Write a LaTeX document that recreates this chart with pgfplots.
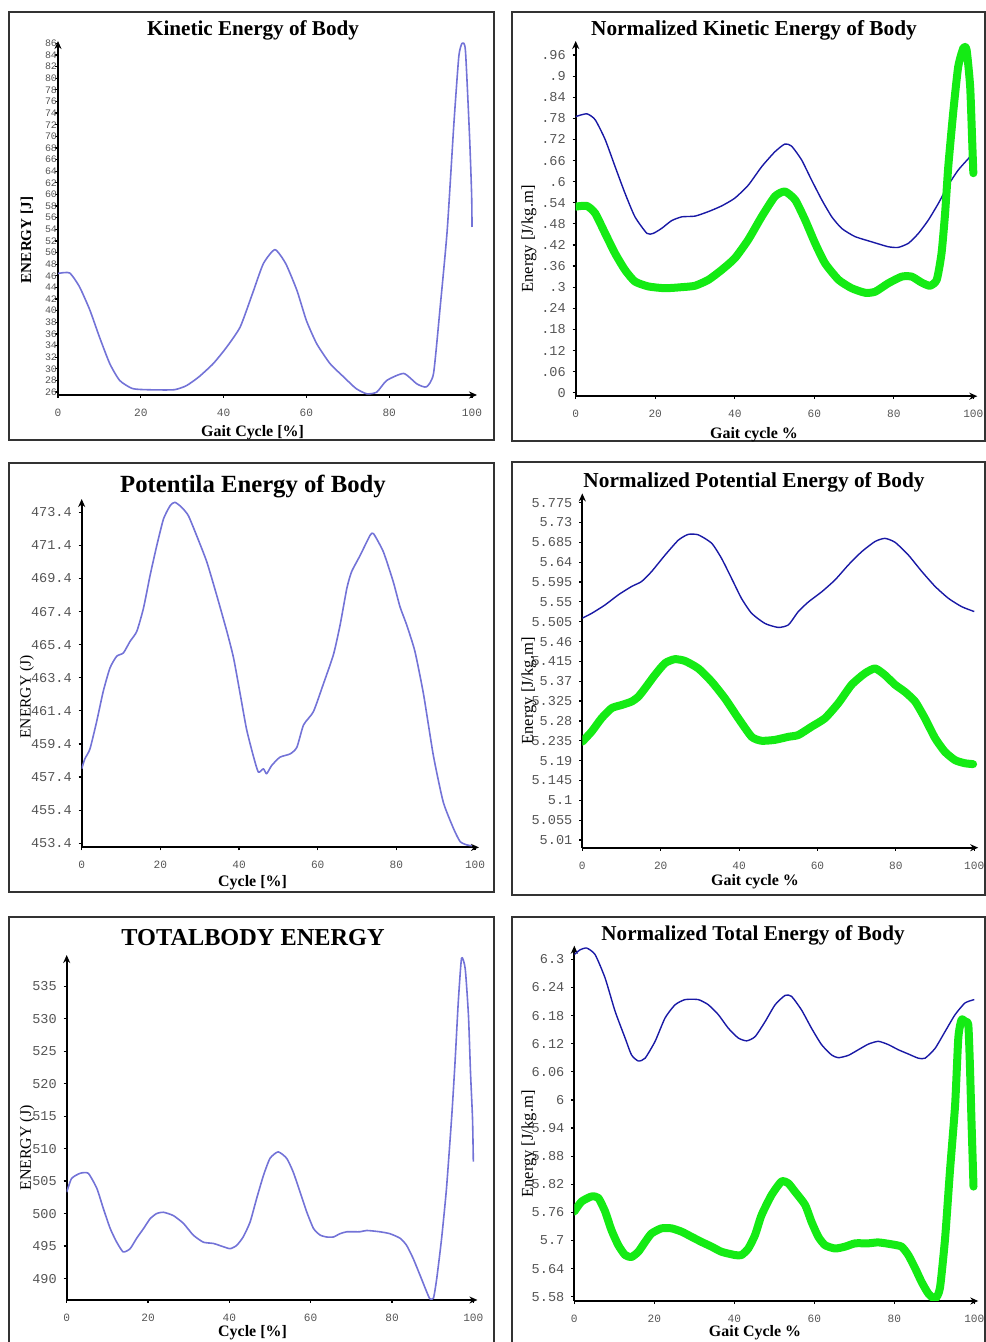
\documentclass[border=0pt]{standalone}
\usepackage{fontspec}
\setmainfont{Liberation Serif}
\newfontfamily\monofont{Liberation Mono}
\usepackage{pgfplots}
\pgfplotsset{compat=1.18}
\usetikzlibrary{arrows.meta}
\definecolor{lav}{RGB}{115,115,215}
\definecolor{nblue}{RGB}{25,25,165}
\definecolor{lgreen}{RGB}{20,235,20}
\definecolor{tickgray}{RGB}{85,85,85}
\pgfplotsset{
  panel/.style={
    scale only axis,
    anchor=south west,
    axis lines=left,
    axis line style={line width=1.1bp, -{Stealth[length=4bp,width=3.5bp]}},
    xmin=0, xmax=101,
    xtick={0,20,40,60,80,100},
    xticklabels={0,20,40,60,80,100},
    tick align=outside,
    major tick length=1.5bp,
    tick style={black, line width=0.6bp},
    x tick label style={font=\monofont\fontsize{5.6}{6}\selectfont, text=tickgray, yshift=-2bp},
    y tick label style={font=\monofont\fontsize{6.8}{7}\selectfont, text=tickgray},
  },
  lavline/.style={lav, line width=0.8bp, line join=round, smooth, tension=0.35},
  blueline/.style={nblue, line width=0.7bp, line join=round, smooth, tension=0.35},
  greenline/.style={lgreen, line width=4bp, line join=round, line cap=round, smooth, tension=0.35},
}
\begin{document}
\begin{tikzpicture}
\useasboundingbox (0,0) rectangle (493bp,671bp);
% panel borders
\draw[black!80, line width=0.6bp] (4.5bp,451bp) rectangle (247bp,665bp);
\draw[black!80, line width=0.6bp] (256bp,450.5bp) rectangle (492.5bp,665bp);
\draw[black!80, line width=0.6bp] (4.5bp,225bp) rectangle (247bp,439.5bp);
\draw[black!80, line width=0.6bp] (256bp,223.5bp) rectangle (492.5bp,440bp);
\draw[black!80, line width=0.6bp] (4.5bp,-10bp) rectangle (247bp,212.5bp);
\draw[black!80, line width=0.6bp] (256bp,-10bp) rectangle (492.5bp,212.5bp);

% Panel 1: Kinetic energy
\begin{axis}[panel, at={(29bp,473.5bp)}, width=209.5bp, height=177bp,
  xmax=101.2, ymin=25.5, ymax=86.4,
  ytick={26,28,...,86},
  yticklabels={26,28,30,32,34,36,38,40,42,44,46,48,50,52,54,56,58,60,62,64,66,68,70,72,74,76,78,80,82,84,86},
  y tick label style={font=\monofont\fontsize{5}{5}\selectfont, xshift=4.5bp}]
\addplot[lavline] coordinates {
(0,46.4)(2.8,46.5)(5.2,44.1)(7.7,40.1)(10,35.5)(12.5,30.9)(14.9,28)(18,26.6)(22,26.4)(28,26.4)(31,27.1)(34,28.6)(37.5,30.9)(40.7,33.7)(44,37.2)(47,43)(49.6,48.1)(52.4,50.5)(55,48.1)(57.7,43.5)(60,38.3)(62.5,34.3)(65.7,30.9)(69,28.6)(72,26.6)(74.6,25.7)(77,26)(79.4,28)(83.5,29.2)(86.7,27.4)(89,26.9)(90.7,29.2)(92.3,40.6)(94,53.8)(95.6,72)(96.8,83.7)(97.6,86)(98.4,84.8)(99.4,70)(99.9,60)(100,54.4)};
\end{axis}

% Panel 2: Normalized kinetic energy
\begin{axis}[panel, at={(287.85bp,472.9bp)}, width=200.8bp, height=177.6bp,
  ymin=-0.01, ymax=1.0,
  ytick={0,0.06,0.12,0.18,0.24,0.3,0.36,0.42,0.48,0.54,0.6,0.66,0.72,0.78,0.84,0.9,0.96},
  yticklabels={0,.06,.12,.18,.24,.3,.36,.42,.48,.54,.6,.66,.72,.78,.84,.9,.96}]
\addplot[blueline] coordinates {
(0,0.785)(2.8,0.793)(4.9,0.776)(7.4,0.72)(9.9,0.643)(12.4,0.567)(14.9,0.5)(17.9,0.453)(19.5,0.453)(21.6,0.467)(24.1,0.489)(26.7,0.5)(30,0.502)(33.4,0.515)(36.7,0.531)(40,0.553)(43.4,0.59)(46.8,0.643)(50.1,0.685)(52.6,0.707)(54.3,0.701)(56.8,0.662)(59.3,0.605)(61.9,0.548)(64.4,0.5)(66.9,0.467)(70.2,0.444)(74.4,0.429)(78.6,0.415)(81.1,0.413)(83.7,0.425)(86.2,0.453)(88.7,0.491)(91.2,0.538)(93.7,0.59)(96.2,0.633)(99.2,0.671)};
\addplot[greenline] coordinates {
(0,0.529)(2.8,0.531)(4.9,0.51)(7.4,0.453)(9.9,0.396)(12.4,0.349)(14.9,0.316)(18.3,0.302)(22.5,0.297)(26.7,0.3)(30,0.304)(33.4,0.321)(36.7,0.349)(40,0.382)(43.4,0.435)(46.8,0.501)(50.1,0.558)(52.6,0.572)(55.2,0.548)(57.7,0.491)(60.2,0.425)(62.7,0.368)(66.1,0.321)(69.4,0.297)(72.8,0.284)(75.3,0.287)(78.6,0.311)(82,0.33)(84.5,0.33)(87,0.313)(89.1,0.304)(90.8,0.321)(92,0.396)(92.9,0.51)(93.7,0.643)(95,0.804)(96.2,0.927)(97.5,0.98)(98.3,0.975)(99.2,0.871)(99.7,0.719)(100,0.624)};
\end{axis}

% Panel 3: Potential energy
\begin{axis}[panel, at={(40.85bp,247.3bp)}, width=198.65bp, height=174.2bp,
  ymin=453.15, ymax=474.2,
  ytick={453.4,455.4,457.4,459.4,461.4,463.4,465.4,467.4,469.4,471.4,473.4},
  yticklabels={453.4,455.4,457.4,459.4,461.4,463.4,465.4,467.4,469.4,471.4,473.4}]
\addplot[lavline] coordinates {
(0,457.9)(0.8,458.5)(2.1,459.1)(3.8,460.75)(5.5,462.6)(7.2,464.0)(8.9,464.7)(10.6,464.9)(12.3,465.6)(14,466.2)(15.7,467.6)(17.4,469.6)(19.1,471.4)(20.8,473.0)(22.5,473.8)(23.7,474.0)(25.4,473.7)(27.1,473.2)(29.2,472.0)(31.8,470.4)(34.3,468.4)(36.9,466.2)(38.6,464.6)(40.3,462.4)(41.9,460.3)(43.6,458.7)(44.9,457.7)(46.2,457.9)(47,457.6)(48.3,458.1)(50.4,458.6)(53,458.8)(54.7,459.2)(56.4,460.55)(58.9,461.35)(61.4,463.0)(64,464.8)(65.7,466.6)(67.4,468.8)(68.6,469.8)(70.8,470.8)(73.3,472.0)(74.2,472.1)(76.7,471.0)(79.2,469.2)(80.9,467.7)(82.6,466.6)(84.7,465.0)(86.9,462.4)(89.4,458.7)(91.9,455.9)(94.5,454.3)(96.2,453.5)(97.9,453.3)(99.2,453.25)};
\end{axis}

% Panel 4: Normalized potential energy
\begin{axis}[panel, at={(291.15bp,247.15bp)}, width=197.95bp, height=177.15bp,
  ymin=4.9925, ymax=5.796,
  ytick={5.01,5.055,5.1,5.145,5.19,5.235,5.28,5.325,5.37,5.415,5.46,5.505,5.55,5.595,5.64,5.685,5.73,5.775},
  yticklabels={5.01,5.055,5.1,5.145,5.19,5.235,5.28,5.325,5.37,5.415,5.46,5.505,5.55,5.595,5.64,5.685,5.73,5.775}]
\addplot[blueline] coordinates {
(0,5.513)(2.4,5.524)(5.8,5.543)(9.2,5.566)(12.6,5.585)(15.1,5.596)(17.7,5.619)(21.1,5.656)(24.5,5.69)(27,5.703)(29.6,5.702)(33,5.683)(35.5,5.649)(38.1,5.603)(40.6,5.558)(43.2,5.524)(46.6,5.501)(50,5.492)(52.6,5.498)(55.1,5.528)(57.7,5.55)(61.1,5.573)(64.5,5.6)(67.9,5.634)(71.3,5.664)(74.7,5.687)(77.2,5.694)(79.8,5.685)(83.2,5.656)(86.6,5.619)(90,5.585)(93.4,5.558)(96.8,5.539)(100,5.528)};
\addplot[greenline] coordinates {
(0,5.233)(2.4,5.256)(4.9,5.286)(7.5,5.309)(10,5.316)(12.6,5.324)(14.3,5.335)(16,5.354)(18.5,5.384)(21.1,5.411)(23.6,5.42)(26.2,5.416)(29.6,5.399)(33,5.369)(36.4,5.331)(39.8,5.286)(43.2,5.244)(45.7,5.235)(49.1,5.237)(52.6,5.244)(55.1,5.248)(58.5,5.267)(61.9,5.286)(65.3,5.32)(68.7,5.362)(72.1,5.388)(74.7,5.399)(77.2,5.384)(79.8,5.362)(82.3,5.346)(84.9,5.324)(87.4,5.286)(90,5.241)(92.5,5.21)(95.1,5.191)(97.6,5.184)(99.7,5.182)};
\end{axis}

% Panel 5: Total body energy
\begin{axis}[panel, at={(33.35bp,21bp)}, width=205.35bp, height=172.5bp,
  ymin=486.7, ymax=539.8,
  ytick={490,495,500,505,510,515,520,525,530,535},
  yticklabels={490,495,500,505,510,515,520,525,530,535}]
\addplot[lavline] coordinates {
(0,503.3)(1.2,505.4)(3.3,506.2)(5.3,506.2)(7.4,503.9)(9,500.8)(10.7,497.7)(12.3,495.6)(13.9,494.1)(15.6,494.6)(17.2,496.2)(18.9,497.7)(20.5,499.2)(22.1,500.0)(23.8,500.2)(26.2,499.7)(28.7,498.5)(31.1,496.7)(33.6,495.6)(36.1,495.4)(38.5,494.9)(40.2,494.6)(41.8,495.1)(43.4,496.4)(45.1,498.7)(46.7,502.3)(48.4,505.9)(50,508.5)(52,509.5)(54.1,508.5)(55.7,506.4)(57.4,503.3)(59,500.3)(60.7,497.7)(62.3,496.7)(63.9,496.4)(65.6,496.4)(67.2,496.9)(68.9,497.2)(72.1,497.2)(73.8,497.4)(77,497.2)(79.5,496.9)(82,496.2)(83.6,495.1)(85.2,493.1)(86.9,490.5)(88.5,488.0)(89.3,486.9)(90.2,487.0)(91,490)(92.2,496.2)(93.4,503.9)(94.7,515.1)(95.5,523.3)(96.3,532.6)(97.1,539.3)(98,537.7)(98.8,530.5)(99.3,521.8)(99.8,514.6)(100,508)};
\end{axis}

% Panel 6: Normalized total energy
\begin{axis}[panel, at={(287.15bp,20.5bp)}, width=202bp, height=177.65bp,
  ymin=5.571, ymax=6.329,
  ytick={5.58,5.64,5.7,5.76,5.82,5.88,5.94,6,6.06,6.12,6.18,6.24,6.3},
  yticklabels={5.58,5.64,5.7,5.76,5.82,5.88,5.94,6,6.06,6.12,6.18,6.24,6.3}]
\addplot[blueline] coordinates {
(0,6.31)(1.4,6.32)(3.1,6.324)(5.2,6.31)(7.7,6.26)(10.2,6.189)(12.7,6.132)(14.3,6.096)(16,6.083)(17.7,6.089)(20.2,6.125)(22.7,6.175)(25.2,6.203)(27.7,6.214)(31,6.214)(33.5,6.203)(36,6.182)(38.5,6.153)(41,6.132)(43.1,6.126)(45.2,6.135)(47.7,6.167)(50.2,6.203)(52.7,6.223)(54.3,6.221)(56.8,6.192)(59.3,6.153)(61.8,6.118)(64.3,6.096)(66,6.09)(68.5,6.095)(71,6.107)(73.5,6.119)(76,6.125)(78.5,6.118)(81,6.107)(83.5,6.098)(86,6.089)(87.7,6.089)(90.2,6.11)(92.7,6.146)(95.2,6.182)(97.7,6.207)(100,6.214)};
\addplot[greenline] coordinates {
(0,5.762)(1.8,5.783)(4.3,5.794)(6,5.791)(7.7,5.762)(9.3,5.722)(11,5.69)(12.7,5.669)(14.3,5.665)(16,5.676)(17.7,5.697)(19.3,5.715)(21.8,5.726)(24.3,5.726)(26.8,5.719)(29.3,5.708)(31.8,5.697)(34.3,5.687)(36.8,5.676)(40.2,5.669)(41.8,5.669)(43.5,5.683)(45.2,5.712)(46.8,5.754)(49.3,5.797)(51.8,5.826)(53.5,5.822)(55.2,5.804)(57.7,5.776)(59.3,5.74)(61,5.708)(62.7,5.69)(65.2,5.683)(67.7,5.687)(70.2,5.694)(73.5,5.694)(76,5.696)(79.3,5.692)(81.8,5.687)(83.5,5.669)(85.2,5.641)(86.8,5.612)(88.5,5.587)(90.2,5.576)(91.4,5.598)(92.7,5.705)(93.9,5.847)(95.2,5.989)(96,6.132)(96.8,6.171)(97.7,6.167)(98.5,6.16)(98.9,6.075)(99.3,5.954)(99.8,5.815)};
\end{axis}

% titles
\node[anchor=base, font=\bfseries\fontsize{10.6}{12}\selectfont] at (126.5bp,653bp) {Kinetic Energy of Body};
\node[anchor=base, font=\bfseries\fontsize{10.7}{12}\selectfont] at (377bp,653bp) {Normalized Kinetic Energy of Body};
\node[anchor=base, font=\bfseries\fontsize{12.4}{14}\selectfont] at (126.5bp,424.5bp) {Potentila Energy of Body};
\node[anchor=base, font=\bfseries\fontsize{10.7}{12}\selectfont] at (377bp,427.25bp) {Normalized Potential Energy of Body};
\node[anchor=base, font=\bfseries\fontsize{12.2}{14}\selectfont] at (126.5bp,198bp) {TOTALBODY ENERGY};
\node[anchor=base, font=\bfseries\fontsize{10.6}{12}\selectfont] at (376.5bp,200.65bp) {Normalized Total Energy of Body};
% x labels
\node[anchor=base, font=\bfseries\fontsize{8}{9}\selectfont] at (126.25bp,452.5bp) {Gait Cycle [\%]};
\node[anchor=base, font=\bfseries\fontsize{8}{9}\selectfont] at (377bp,451.5bp) {Gait cycle \%};
\node[anchor=base, font=\bfseries\fontsize{8}{9}\selectfont] at (126.25bp,227.5bp) {Cycle [\%]};
\node[anchor=base, font=\bfseries\fontsize{8}{9}\selectfont] at (377.5bp,228bp) {Gait cycle \%};
\node[anchor=base, font=\bfseries\fontsize{8}{9}\selectfont] at (126.25bp,2.6bp) {Cycle [\%]};
\node[anchor=base, font=\bfseries\fontsize{8}{9}\selectfont] at (377.5bp,2.6bp) {Gait Cycle \%};
% y labels
\node[rotate=90, font=\bfseries\fontsize{7.6}{9}\selectfont] at (13.5bp,551bp) {ENERGY [J]};
\node[rotate=90, font=\fontsize{8.3}{9}\selectfont] at (264.5bp,551.5bp) {Energy [J/kg.m]};
\node[rotate=90, font=\fontsize{7.8}{9}\selectfont] at (13.5bp,322.5bp) {ENERGY (J)};
\node[rotate=90, font=\fontsize{8.3}{9}\selectfont] at (264.5bp,325.5bp) {Energy [J/kg.m]};
\node[rotate=90, font=\fontsize{8}{9}\selectfont] at (13.5bp,97bp) {ENERGY (J)};
\node[rotate=90, font=\fontsize{8.3}{9}\selectfont] at (264.5bp,99bp) {Energy [J/kg.m]};
\end{tikzpicture}
\end{document}
